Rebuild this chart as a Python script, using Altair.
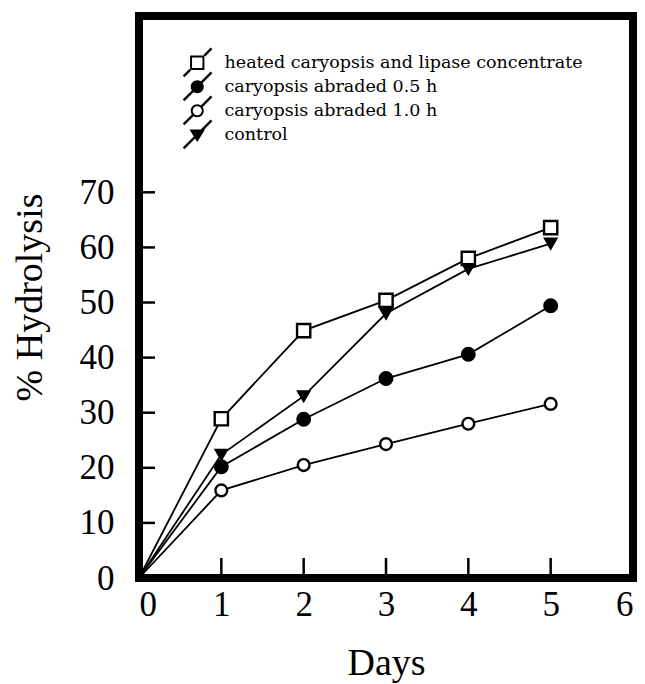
import altair as alt
import pandas as pd

# ---- data ----
days = [0, 1, 2, 3, 4, 5]
series_names = [
    "heated caryopsis and lipase concentrate",
    "caryopsis abraded 0.5 h",
    "caryopsis abraded 1.0 h",
    "control",
]
heated = [0, 28.9, 44.9, 50.4, 58.0, 63.6]
abraded_05 = [0, 20.2, 28.8, 36.2, 40.6, 49.4]
abraded_10 = [0, 15.9, 20.5, 24.3, 28.0, 31.6]
control = [0, 22.4, 33.0, 48.0, 56.1, 60.7]

x_tick_values = [0, 1, 2, 3, 4, 5, 6]
y_tick_values = [0, 10, 20, 30, 40, 50, 60, 70]
inner_x_ticks = [1, 2, 3, 4, 5]
inner_y_ticks = [10, 20, 30, 40, 50, 60, 70]

# ---- styling ----
point_shapes = ["square", "circle", "circle", "triangle-down"]
point_fills = ["white", "black", "white", "black"]
point_sizes = [175, 120, 120, 170]


def f(v):
    return f"{v:.3f}"


def seg(a, b, t=0.13):
    # thin filled quad along the legend diagonal
    ax, ay = a
    bx, by = b
    return (f"M{f(ax - t)},{f(ay - t)}L{f(bx - t)},{f(by - t)}"
            f"L{f(bx + t)},{f(by + t)}L{f(ax + t)},{f(ay + t)}Z")


def circle(r, cw=True):
    s = 1 if cw else 0
    return (f"M{f(-r)},0A{f(r)},{f(r)},0,1,{s},{f(r)},0"
            f"A{f(r)},{f(r)},0,1,{s},{f(-r)},0Z")


sq_out = "M-1.1,-1.1H1.1V1.1H-1.1Z"
sq_in = "M-0.8,-0.8V0.8H0.8V-0.8Z"
legend_shapes = [
    sq_out + sq_in + seg((-2.1, 2.1), (-1.1, 1.1)) + seg((1.1, -1.1), (2.2, -2.2)),
    circle(1.0) + seg((-2.1, 2.1), (2.2, -2.2)),
    circle(1.0) + circle(0.7, cw=False) + seg((-2.1, 2.1), (-0.71, 0.71)) + seg((0.71, -0.71), (2.2, -2.2)),
    "M-1.2,-0.8L1.2,-0.8L0,1.1Z" + seg((-2.1, 2.1), (2.2, -2.2)),
]

rows = []
for name, vals in zip(series_names, [heated, abraded_05, abraded_10, control]):
    for d, v in zip(days, vals):
        rows.append({"series": name, "day": d, "pct": v})
df = pd.DataFrame(rows)
pts = df[df["day"] > 0]

W, H = 494, 562
SERIF = "Liberation Serif"

x_enc = alt.X(
    "day:Q",
    scale=alt.Scale(domain=[0, 6], nice=False, zero=False),
    axis=alt.Axis(values=x_tick_values, title="Days", format="d",
                  labelPadding=9, titlePadding=22),
)
y_enc = alt.Y(
    "pct:Q",
    scale=alt.Scale(domain=[0, 102], nice=False),
    axis=alt.Axis(values=y_tick_values, title="% Hydrolysis", format="d",
                  labelPadding=25, titlePadding=30),
)

lines = alt.Chart(df).mark_line(color="black", strokeWidth=1.8).encode(
    x=x_enc, y=y_enc, detail="series:N"
)

points = alt.Chart(pts).mark_point(filled=True, stroke="black", strokeWidth=2.4, opacity=1).encode(
    x=x_enc,
    y=y_enc,
    shape=alt.Shape("series:N", scale=alt.Scale(domain=series_names, range=point_shapes), legend=None),
    fill=alt.Fill("series:N", scale=alt.Scale(domain=series_names, range=point_fills), legend=None),
    size=alt.Size("series:N", scale=alt.Scale(domain=series_names, range=point_sizes), legend=None),
)

legend_def = alt.Legend(
    title=None,
    orient="none",
    legendX=49.5,
    legendY=38,
    padding=0,
    rowPadding=-8.5,
    labelOffset=18.5,
    symbolSize=169,
    symbolFillColor="black",
    symbolStrokeWidth=0,
    symbolOpacity=1,
    labelFont="DejaVu Serif",
    labelFontSize=17.5,
    labelColor="black",
    labelLimit=600,
)

legend_layer = alt.Chart(pts).mark_point(filled=True, color="black", opacity=0).encode(
    x=x_enc,
    y=y_enc,
    shape=alt.Shape("series:N", scale=alt.Scale(domain=series_names, range=legend_shapes), legend=legend_def),
)

yt = pd.DataFrame({"pct": inner_y_ticks})
xt = pd.DataFrame({"day": inner_x_ticks})

y_ticks_in = alt.Chart(yt).mark_rule(color="black", strokeWidth=2.5).encode(
    y=y_enc, x=alt.value(0), x2=alt.value(16)
)
x_ticks_in = alt.Chart(xt).mark_rule(color="black", strokeWidth=2.5).encode(
    x=x_enc, y=alt.value(H), y2=alt.value(H - 20)
)

chart = (
    alt.layer(lines, y_ticks_in, x_ticks_in, points, legend_layer)
    .resolve_scale(shape="independent", fill="independent", size="independent")
    .properties(
        width=W,
        height=H,
        autosize=alt.AutoSizeParams(type="none"),
        padding={"left": 131, "top": 8, "right": 4, "bottom": 120},
    )
    .configure_view(stroke="black", strokeWidth=8)
    .configure_legend(labelFont="DejaVu Serif", labelFontSize=17.5, labelColor="black")
    .configure_axis(
        domain=False,
        ticks=False,
        tickSize=0,
        grid=False,
        labelFont=SERIF,
        labelFontSize=35,
        labelColor="black",
        titleFont=SERIF,
        titleFontSize=38,
        titleFontWeight="normal",
        titleColor="black",
    )
)

chart.save("out.html", embed_options={"renderer": "svg", "actions": False})
